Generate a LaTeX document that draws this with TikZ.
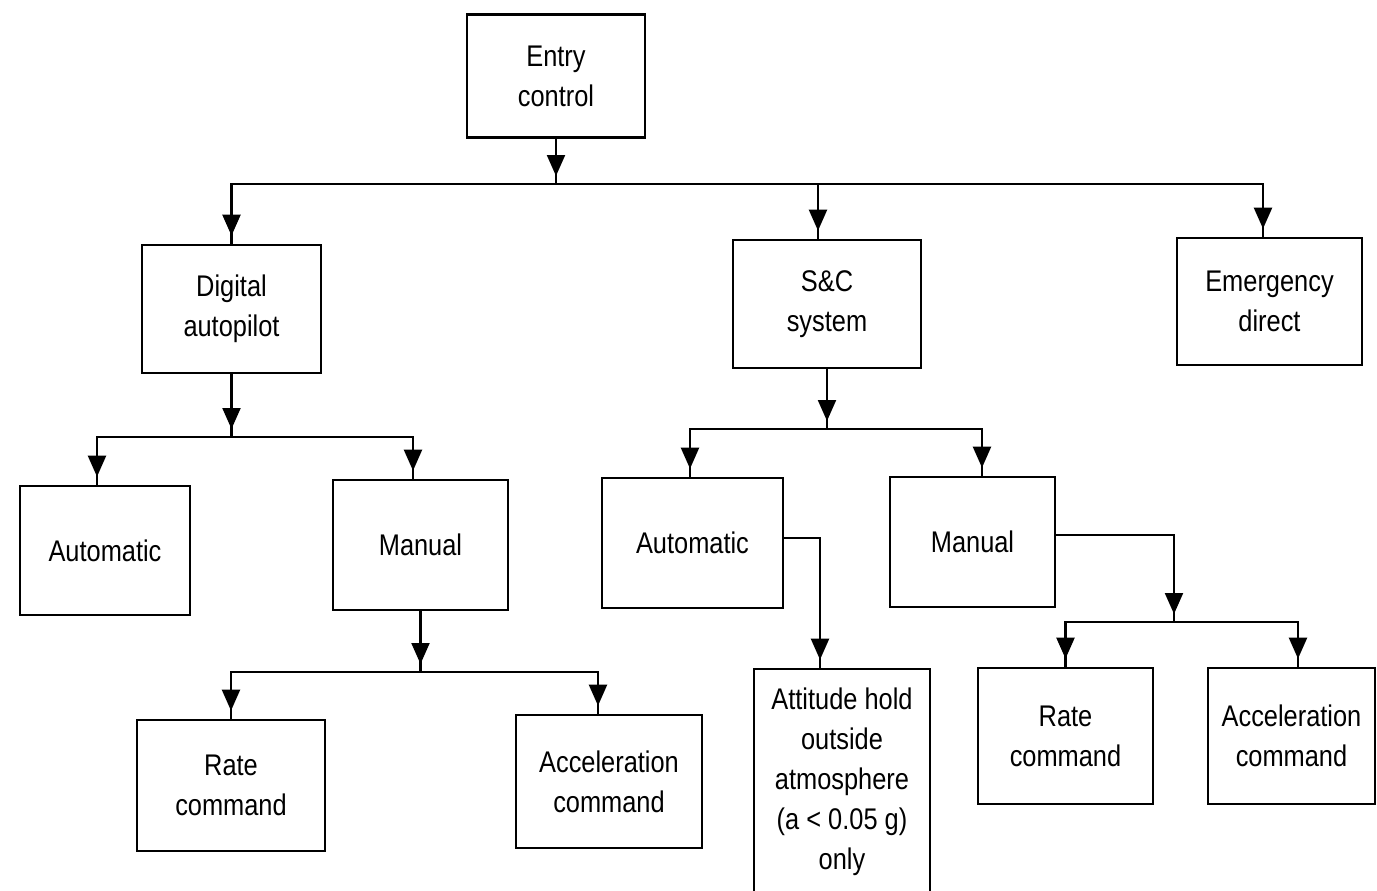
\documentclass[tikz,border=0pt]{standalone}
\usepackage{fontspec}
\setmainfont{Liberation Sans}[FakeStretch=0.85]
\usetikzlibrary{arrows.meta,decorations.markings}

\tikzset{
  blk/.style={draw, line width=1.5pt, align=center, inner sep=0pt,
    font=\fontsize{17pt}{22.7pt}\selectfont},
  arr/.style={line width=1.2pt, postaction={decorate},
    decoration={markings, mark=at position -0.16cm with {\arrow{Triangle[width=0.36cm,length=0.42cm]}}}},
}

\begin{document}
\begin{tikzpicture}[x=0.02cm, y=-0.02cm]
\useasboundingbox (0,0) rectangle (1377,890);

\node[blk, minimum width=3.56cm, minimum height=2.46cm] (entry) at (556,76) {Entry\\control};

\node[blk, minimum width=3.58cm, minimum height=2.56cm] (dap) at (231.5,309) {Digital\\autopilot};
\node[blk, minimum width=3.76cm, minimum height=2.56cm] (snc) at (827,304) {S\&C\\system};
\node[blk, minimum width=3.7cm, minimum height=2.54cm] (emg) at (1269.5,301.5) {Emergency\\direct};

\node[blk, minimum width=3.4cm, minimum height=2.58cm] (dauto) at (105,550.5) {Automatic};
\node[blk, minimum width=3.5cm, minimum height=2.6cm] (dman) at (420.5,545) {Manual};
\node[blk, minimum width=3.76cm, minimum height=2.62cm] (drate) at (231,785.5) {Rate\\command};
\node[blk, minimum width=3.72cm, minimum height=2.66cm] (dacc) at (609,781.5) {Acceleration\\command};

\node[blk, minimum width=3.62cm, minimum height=2.6cm] (sauto) at (692.5,543) {Automatic};
\node[blk, minimum width=3.3cm, minimum height=2.6cm] (sman) at (972.5,542) {Manual};
\node[blk, minimum width=3.52cm, minimum height=4.52cm] (att) at (842,782) {Attitude hold\\outside\\atmosphere\\(a < 0.05 g)\\only};
\node[blk, minimum width=3.5cm, minimum height=2.72cm] (srate) at (1065.5,736) {Rate\\command};
\node[blk, minimum width=3.34cm, minimum height=2.72cm] (sacc) at (1291.5,736) {Acceleration\\command};

\coordinate (j0) at (556,184);
\coordinate (j1) at (231.5,437);
\coordinate (j2) at (827,429);
\coordinate (j3) at (420.5,672);
\coordinate (j4) at (1174,622);

\draw[arr] (entry.south) -- (j0);
\draw[arr] (j0) -| (dap.north);
\draw[arr] (j0) -| ([xshift=-0.18cm]snc.north);
\draw[arr] (j0) -| ([xshift=-0.13cm]emg.north);

\draw[arr] (dap.south) -- (j1);
\draw[arr] (j1) -| ([xshift=-0.16cm]dauto.north);
\draw[arr] (j1) -| ([xshift=-0.15cm]dman.north);

\draw[arr] (dman.south) -- (j3);
\draw[arr] (j3) -| (drate.north);
\draw[arr] (j3) -| ([xshift=-0.22cm]dacc.north);

\draw[arr] (snc.south) -- (j2);
\draw[arr] (j2) -| ([xshift=-0.05cm]sauto.north);
\draw[arr] (j2) -| ([xshift=0.19cm]sman.north);

\draw[arr] ([yshift=0.1cm]sauto.east) -| ([xshift=-0.44cm]att.north);
\draw[arr] ([yshift=0.14cm]sman.east) -| (j4);
\draw[arr] (j4) -| (srate.north);
\draw[arr] (j4) -| ([xshift=0.13cm]sacc.north);

\end{tikzpicture}
\end{document}
